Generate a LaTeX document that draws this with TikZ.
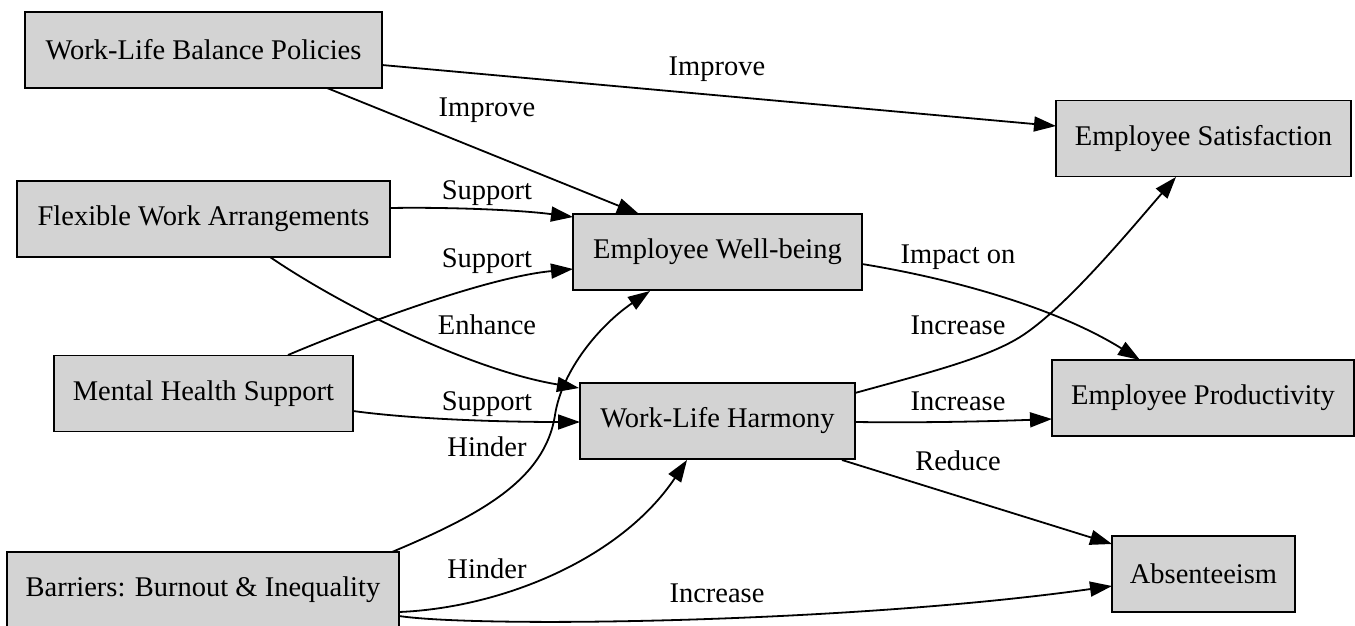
\documentclass[tikz,border=0pt]{standalone}
\usepackage{fontspec}
\setmainfont{Liberation Serif}
\usetikzlibrary{arrows.meta}
\definecolor{boxgray}{HTML}{D3D3D3}
\begin{document}
\begin{tikzpicture}[x=1pt,y=-1pt,
  every node/.style={font=\fontsize{28.5}{34}\selectfont},
  box/.style={draw=black,fill=boxgray,line width=1.8pt,minimum height=76pt,inner sep=0pt},
  lbl/.style={inner sep=0pt,text height=19pt,text depth=6pt,yshift=-2.5pt},
  edge/.style={line width=1.8pt,-{Triangle[length=22pt,width=15pt]}}]
\useasboundingbox (0,0) rectangle (1355,626);

% factors on the left
\node[box,minimum width=357pt] (wlbp) at (203.5,50) {Work-Life Balance Policies};
\node[box,minimum width=373pt] (fwa) at (203.5,219) {Flexible Work Arrangements};
\node[box,minimum width=299pt] (mhs) at (203.5,393.5) {Mental Health Support};
\node[box,minimum width=392pt] (bbi) at (203,590) {Barriers: Burnout \& Inequality};
% intermediate states
\node[box,minimum width=289pt] (ewb) at (717.5,252) {Employee Well-being};
\node[box,minimum width=275pt] (wlh) at (717.5,421) {Work-Life Harmony};
% outcomes
\node[box,minimum width=295pt] (es) at (1203.5,138.5) {Employee Satisfaction};
\node[box,minimum width=302pt] (ep) at (1203,398) {Employee Productivity};
\node[box,minimum width=183pt] (abs) at (1203.5,574) {Absenteeism};

% connectors
\draw[edge] ([shift={(178.5,15)}]wlbp.center) -- ([shift={(-147.5,-12.5)}]es.center);
\draw[edge] ([shift={(123.5,38)}]wlbp.center) -- ([shift={(-78.5,-38)}]ewb.center);
\draw[edge] ([shift={(186.5,-11)}]fwa.center) .. controls (450,207) and (520,210) .. ([shift={(-144.5,-35)}]ewb.center);
\draw[edge] ([shift={(66.5,38)}]fwa.center) .. controls (340,305) and (470,370) .. ([shift={(-138.5,-33)}]wlh.center);
\draw[edge] ([shift={(84.5,-38.5)}]mhs.center) .. controls (340,333) and (480,278) .. ([shift={(-144.5,17)}]ewb.center);
\draw[edge] ([shift={(149.5,17.5)}]mhs.center) .. controls (420,420) and (510,422) .. ([shift={(-137.5,1)}]wlh.center);
\draw[edge] ([shift={(189,-38)}]bbi.center) .. controls (480,515) and (545,480) .. (555,415)
  .. controls (562,370) and (600,325) .. ([shift={(-67.5,39)}]ewb.center);
\draw[edge] ([shift={(196,22)}]bbi.center) .. controls (500,608) and (620,560) .. ([shift={(-30.5,39)}]wlh.center);
\draw[edge] ([shift={(196,26)}]bbi.center) .. controls (480,628) and (850,623) .. ([shift={(-91.5,12)}]abs.center);
\draw[edge] ([shift={(144.5,12)}]ewb.center) .. controls (960,280) and (1060,310) .. ([shift={(-63,-38)}]ep.center);
\draw[edge] ([shift={(137.5,-28)}]wlh.center) .. controls (920,375) and (980,360) .. (1015,340)
  .. controls (1060,315) and (1130,230) .. ([shift={(-27.5,38.5)}]es.center);
\draw[edge] ([shift={(137.5,1)}]wlh.center) .. controls (930,423) and (1000,421) .. ([shift={(-151,21)}]ep.center);
\draw[edge] ([shift={(124.5,39)}]wlh.center) -- ([shift={(-91.5,-30)}]abs.center);

% connector labels
\node[lbl] (l1) at (717,66) {Improve};
\node[lbl] (l2) at (487,108) {Improve};
\node[lbl] (l3) at (487,190) {Support};
\node[lbl] (l4) at (487,258) {Support};
\node[lbl] (l5) at (487,325) {Enhance};
\node[lbl] (l6) at (487,401) {Support};
\node[lbl] (l7) at (487,447) {Hinder};
\node[lbl] (l8) at (487,569) {Hinder};
\node[lbl] (l9) at (717,593) {Increase};
\node[lbl] (l10) at (958,254) {Impact on};
\node[lbl] (l11) at (958,325) {Increase};
\node[lbl] (l12) at (958,401) {Increase};
\node[lbl] (l13) at (958,461) {Reduce};
\end{tikzpicture}
\end{document}
